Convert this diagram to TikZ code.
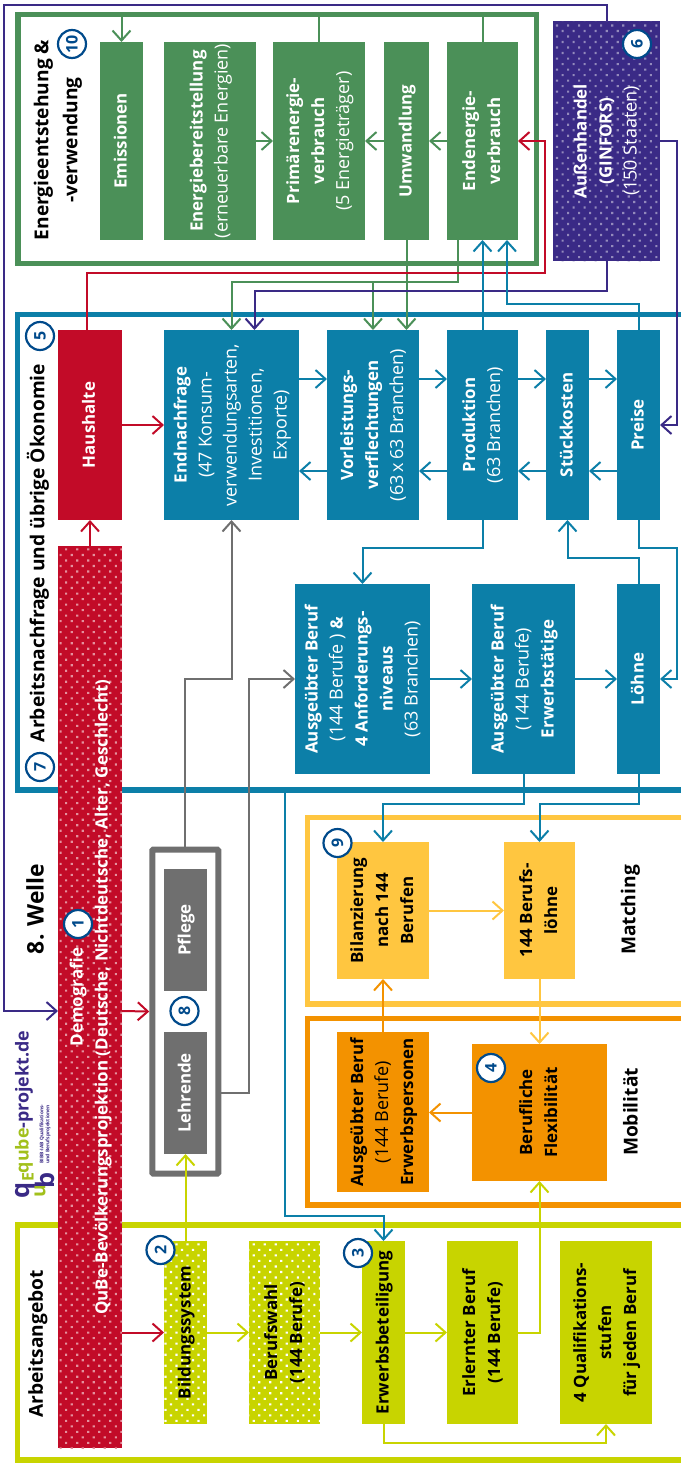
\documentclass[tikz,border=0pt]{standalone}
\usepackage{fontspec}
\setmainfont[BoldFeatures={Scale=0.94}]{Open Sans}
\usetikzlibrary{arrows.meta,patterns.meta}

\definecolor{blau}{HTML}{0C7FA8}
\definecolor{rot}{HTML}{C20B28}
\definecolor{gruen}{HTML}{4B9058}
\definecolor{limette}{HTML}{C8D400}
\definecolor{orange}{HTML}{F39200}
\definecolor{gelb}{HTML}{FFC640}
\definecolor{grau}{HTML}{6F6F6F}
\definecolor{lila}{HTML}{3A2A86}
\definecolor{marine}{HTML}{004A8B}

\newcommand{\rot}[1]{\rotatebox{90}{\begin{tabular}{@{}c@{}}#1\end{tabular}}}

\tikzset{
  wh/.style 2 args={minimum width=#1pt,minimum height=#2pt},
  box/.style={inner sep=0pt,outer sep=0pt,font=\fontsize{18}{25}\selectfont},
  bluebox/.style={box,fill=blau,text=white},
  greenbox/.style={box,fill=gruen,text=white},
  redbox/.style={box,fill=rot,text=white},
  greybox/.style={box,fill=grau,text=white},
  limebox/.style={box,fill=limette},
  orangebox/.style={box,fill=orange},
  yellowbox/.style={box,fill=gelb},
  dotbox/.style={postaction={pattern={Dots[distance=7.8pt,angle=45,radius=1.5pt]},pattern color=#1}},
  frame/.style={line width=5.5pt},
  conn/.style={line width=2pt,-{Straight Barb[length=10pt,width=18pt,line width=2pt]}},
  plain/.style={line width=2pt},
  nummer/.style={circle,draw=marine,fill=white,line width=2.2pt,inner sep=0pt,minimum size=28pt,text=marine,font=\fontsize{17}{17}\selectfont\bfseries},
  titel/.style={inner sep=0pt,font=\fontsize{20.4}{29}\selectfont\bfseries}
}

\begin{document}
\begin{tikzpicture}[x=1pt,y=-1pt]
\useasboundingbox (0,0) rectangle (681,1465);

%rahmen
\node[draw=gruen,frame,minimum width=518.5pt,minimum height=249pt,inner sep=0pt,outer sep=0pt] (energie) at (277,139) {};
\draw[blau,frame] (681,314.5) -- (17.5,314.5) -- (17.5,790) -- (681,790);
\draw[gelb,frame] (681,817.5) -- (307.5,817.5) -- (307.5,1004) -- (681,1004);
\draw[orange,frame] (681,1018.5) -- (307.5,1018.5) -- (307.5,1205) -- (681,1205);
\draw[limette,frame] (681,1225) -- (17.5,1225) -- (17.5,1460) -- (681,1460);
\node[draw=grau,line width=6pt,rounded corners=1pt,minimum width=66pt,minimum height=324pt,inner sep=0pt] (pflegerahmen) at (185.25,1011.5) {};
\coordinate (blaurand) at (284.5,790);

%energie
\node[greenbox,wh={43}{198}] (emissionen) at (121.5,141) {\rot{\textbf{Emissionen}}};
\node[greenbox,wh={92}{198}] (bereitstellung) at (210,141) {\rot{\textbf{Energiebereitstellung}\\(erneuerbare Energien)}};
\node[greenbox,wh={92}{198}] (primaer) at (319,141) {\rot{\textbf{Primärenergie-}\\\textbf{verbrauch}\\(5 Energieträger)}};
\node[greenbox,wh={45}{198}] (umwandlung) at (406.5,141) {\rot{\textbf{Umwandlung}}};
\node[greenbox,wh={71}{198}] (endenergie) at (482.5,141) {\rot{\textbf{Endenergie-}\\\textbf{verbrauch}}};
\node[box,fill=lila,text=white,dotbox=white!45!lila,wh={107}{240}] (aussenhandel) at (606.5,141) {\rot{\textbf{Außenhandel}\\\textbf{(GINFORS)}\\(150 Staaten)}};

%oekonomie
\node[redbox,wh={64}{190}] (haushalte) at (90,425) {\rot{\textbf{Haushalte}}};
\node[bluebox,wh={135}{190}] (endnachfrage) at (231.5,425) {\rot{\textbf{Endnachfrage}\\(47 Konsum-\\verwendungsarten,\\Investitionen,\\Exporte)}};
\node[bluebox,wh={92}{190}] (vorleistung) at (373,425) {\rot{\textbf{Vorleistungs-}\\\textbf{verflechtungen}\\(63\,x\,63 Branchen)}};
\node[bluebox,wh={71}{190}] (produktion) at (482.5,425) {\rot{\textbf{Produktion}\\(63 Branchen)}};
\node[bluebox,wh={43}{190}] (stueckkosten) at (567.5,425) {\rot{\textbf{Stückkosten}}};
\node[bluebox,wh={43}{190}] (preise) at (638.5,425) {\rot{\textbf{Preise}}};
\node[bluebox,wh={135}{190}] (beruf) at (362.5,679) {\rot{\textbf{Ausgeübter Beruf}\\(144 Berufe ) \textbf{\&}\\\textbf{4 Anforderungs-}\\\textbf{niveaus}\\(63 Branchen)}};
\node[bluebox,wh={103}{190}] (erwerbstaetige) at (523.5,679) {\rot{\textbf{Ausgeübter Beruf}\\(144 Berufe)\\\textbf{Erwerbstätige}}};
\node[bluebox,wh={43}{190}] (loehne) at (638.5,679) {\rot{\textbf{Löhne}}};

%demografie
\node[redbox,fill=rot,dotbox=white!55!rot,wh={64}{902}] (demografie) at (90,997) {\rot{\textbf{Demografie}\\\textbf{QuBe-Bevölkerungsprojektion (Deutsche, Nichtdeutsche, Alter, Geschlecht)}}};

%pflege
\node[greybox,wh={43}{122}] (pflege) at (185.5,930) {\rot{\textbf{Pflege}}};
\node[greybox,wh={43}{122}] (lehrende) at (185.5,1093) {\rot{\textbf{Lehrende}}};

%matching
\node[yellowbox,wh={92}{137}] (bilanz) at (383,910.5) {\rot{\textbf{Bilanzierung}\\\textbf{nach 144}\\\textbf{Berufen}}};
\node[yellowbox,wh={71}{137}] (berufsloehne) at (539.5,910.5) {\rot{\textbf{144 Berufs-}\\\textbf{löhne}}};
\node[orangebox,wh={92}{160}] (personen) at (383,1112) {\rot{\textbf{Ausgeübter Beruf}\\(144 Berufe)\\\textbf{Erwerbspersonen}}};
\node[orangebox,wh={135}{137}] (flexibilitaet) at (539.5,1112.5) {\rot{\textbf{Berufliche}\\\textbf{Flexibilität}}};

%arbeitsangebot
\node[limebox,dotbox=white,wh={43}{183}] (bildung) at (185.5,1332.5) {\rot{\textbf{Bildungssystem}}};
\node[limebox,dotbox=white,wh={71}{183}] (berufswahl) at (284.5,1332.5) {\rot{\textbf{Berufswahl}\\\textbf{(144 Berufe)}}};
\node[limebox,wh={43}{183}] (erwerb) at (383.5,1332.5) {\rot{\textbf{Erwerbsbeteiligung}}};
\node[limebox,wh={71}{183}] (erlernt) at (482.5,1332.5) {\rot{\textbf{Erlernter Beruf}\\\textbf{(144 Berufe)}}};
\node[limebox,wh={92}{183}] (stufen) at (606,1332.5) {\rot{\textbf{4 Qualifikations-}\\\textbf{stufen}\\\textbf{für jeden Beruf}}};

%verbindungen energie
\draw[gruen,conn] (emissionen.north |- energie.north) -- (emissionen.north);
\draw[gruen,plain] (primaer.north |- energie.north) -- (primaer.north);
\draw[gruen,plain] (endenergie.north |- energie.north) -- (endenergie.north);
\draw[gruen,conn] (bereitstellung.east) -- (primaer.west);
\draw[gruen,conn] (umwandlung.west) -- (primaer.east);
\draw[gruen,conn] (endenergie.west) -- (umwandlung.east);
\coordinate (gruenknick) at (373,282);
\draw[gruen,conn] ([xshift=-24.5pt]endenergie.south) |- (gruenknick) -| (endnachfrage.north);
\draw[gruen,conn] (gruenknick) -- (vorleistung.north);
\draw[gruen,conn] (umwandlung.south) -- (umwandlung.south |- vorleistung.north);
\draw[rot,conn] ([xshift=-3pt]haushalte.north) |- (545,273) |- (endenergie.east);

%verbindungen aussenhandel
\draw[lila,conn] (aussenhandel.south) |- (254.5,291) -- ([xshift=23pt]endnachfrage.north);
\draw[lila,conn] (aussenhandel.east) -- ++(16.5,0) |- (preise.east);
\draw[lila,conn] (aussenhandel.north) |- (4,4.5) |- ([yshift=-14pt]demografie.west);

%verbindungen oekonomie
\draw[blau,conn] (produktion.north) -- (endenergie.south);
\draw[blau,conn] (preise.north) -- (638.5,303.5) -| ([xshift=24.5pt]endenergie.south);
\draw[blau,conn] ([yshift=46pt]endnachfrage.east) -- ([yshift=46pt]vorleistung.west);
\draw[blau,conn] ([yshift=46pt]vorleistung.east) -- ([yshift=46pt]produktion.west);
\draw[blau,conn] ([yshift=46pt]produktion.east) -- ([yshift=46pt]stueckkosten.west);
\draw[blau,conn] ([yshift=46pt]stueckkosten.east) -- ([yshift=46pt]preise.west);
\draw[blau,conn] ([yshift=-46pt]preise.west) -- ([yshift=-46pt]stueckkosten.east);
\draw[blau,conn] ([yshift=-46pt]stueckkosten.west) -- ([yshift=-46pt]produktion.east);
\draw[blau,conn] ([yshift=-46pt]produktion.west) -- ([yshift=-46pt]vorleistung.east);
\draw[blau,conn] ([yshift=-46pt]vorleistung.west) -- ([yshift=-46pt]endnachfrage.east);
\draw[blau,conn] (produktion.south) -- (482.5,548) -| (beruf.north);
\draw[blau,conn] (preise.south) |- (676.5,548) |- (loehne.east);
\draw[blau,conn] (loehne.north) -- (638.5,558) -| (stueckkosten.south);
\draw[blau,conn] (beruf.east) -- (erwerbstaetige.west);
\draw[blau,conn] (erwerbstaetige.east) -- (loehne.west);
\draw[blau,conn] (erwerbstaetige.south) -- (523.5,804) -| (bilanz.north);
\draw[blau,conn] (loehne.south) -- (638.5,804) -| (berufsloehne.north);
\draw[blau,conn] (blaurand) -- (284.5,1216) -| (erwerb.north);

%verbindungen demografie
\draw[rot,conn] (haushalte.east) -- (endnachfrage.west);
\draw[rot,conn] (demografie.north) -- (haushalte.south);
\draw[rot,conn] ([yshift=-14pt]demografie.east) -- (pflegerahmen.west);
\draw[rot,conn] (demografie.east |- bildung.west) -- (bildung.west);

%verbindungen pflege
\draw[grau,conn] (pflegerahmen.north) -- (185.25,679) -| (endnachfrage.south);
\draw[grau,conn] (pflegerahmen.east |- lehrende) -| (249,679) -- (beruf.west);

%verbindungen matching
\draw[gelb,conn] (bilanz.east) -- (berufsloehne.west);
\draw[gelb,conn] (berufsloehne.south) -- (flexibilitaet.north);
\draw[orange,conn] (personen.north) -- (bilanz.south);
\draw[orange,conn] (flexibilitaet.west) -- (flexibilitaet.west -| personen.east);

%verbindungen arbeitsangebot
\draw[limette,conn] (bildung.north) -- (lehrende.south);
\draw[limette,conn] (bildung.east) -- (berufswahl.west);
\draw[limette,conn] (berufswahl.east) -- (erwerb.west);
\draw[limette,conn] (erwerb.east) -- (erlernt.west);
\draw[limette,conn] (erlernt.east) -| (flexibilitaet.south);
\draw[limette,conn] (erwerb.south) -- (383.5,1442.5) -| (stufen.south);

%titel
\node[titel,align=center,rotate=90] (energietitel) at (58,140) {Energieentstehung \&\\-verwendung};
\node[titel,rotate=90] (oekonomietitel) at (38,553) {Arbeitsnachfrage und übrige Ökonomie};
\node[titel,rotate=90,font=\fontsize{24.3}{24}\selectfont\bfseries] (welle) at (35,909) {8. Welle};
\node[titel,rotate=90] (angebottitel) at (38,1344) {Arbeitsangebot};
\node[titel,rotate=90] (matching) at (630.5,910) {Matching};
\node[titel,rotate=90] (mobilitaet) at (630.5,1112) {Mobilität};

%logo
\node[rotate=90,inner sep=0pt,font=\fontsize{19}{19}\selectfont\bfseries] (logotext) at (24,1102) {\textcolor{limette!70!gruen}{qube}\textcolor{lila}{-projekt.de}};
\node[rotate=90,inner sep=0pt,text=lila,font=\fontsize{27}{27}\selectfont\bfseries] (logoq) at (25,1190) {q};
\node[rotate=90,inner sep=0pt,text=limette!70!gruen,font=\fontsize{17}{17}\selectfont\bfseries] (logoe) at (28,1177) {E};
\node[rotate=90,inner sep=0pt,text=limette!70!gruen,font=\fontsize{21}{21}\selectfont\bfseries] (logou) at (40,1191) {u};
\node[rotate=90,inner sep=0pt,text=lila,font=\fontsize{27}{27}\selectfont\bfseries] (logob) at (45,1180) {b};
\node[rotate=90,inner sep=0pt,align=left,text=lila,font=\fontsize{5.2}{6}\selectfont\bfseries] (logozeile) at (45,1134) {BIBB-IAB Qualifikations-\\und Berufsprojektionen};

%nummern
\node[nummer] (n1) at (78,924) {\rotatebox{90}{1}};
\node[nummer] (n2) at (160.5,1250) {\rotatebox{90}{2}};
\node[nummer] (n3) at (358,1253) {\rotatebox{90}{3}};
\node[nummer] (n4) at (491,1068) {\rotatebox{90}{4}};
\node[nummer] (n5) at (40,336) {\rotatebox{90}{5}};
\node[nummer] (n6) at (637,44) {\rotatebox{90}{6}};
\node[nummer] (n7) at (40,767) {\rotatebox{90}{7}};
\node[nummer] (n8) at (184.5,1011) {\rotatebox{90}{8}};
\node[nummer] (n9) at (337.5,843) {\rotatebox{90}{9}};
\node[nummer] (n10) at (72,44) {\rotatebox{90}{10}};

\end{tikzpicture}
\end{document}
